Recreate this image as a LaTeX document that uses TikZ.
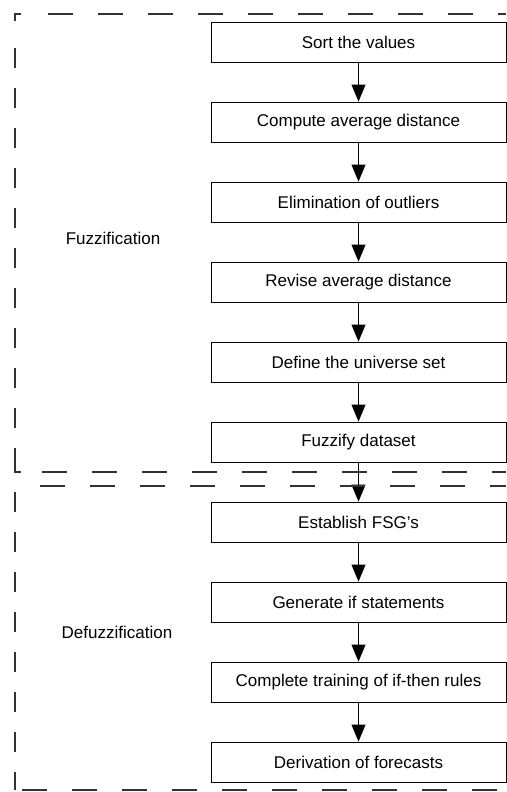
\documentclass[tikz,border=0pt]{standalone}
\usepackage{fontspec}
\setmainfont{Liberation Sans}
\usetikzlibrary{positioning,arrows.meta}
\begin{document}
\begin{tikzpicture}[x=1pt,y=-1pt,
    stage/.style={draw,line width=0.9pt,minimum width=295pt,minimum height=40pt,
        inner sep=0pt,font=\fontsize{17}{20}\selectfont},
    flow/.style={line width=0.9pt,-{Triangle[width=14pt,length=17pt]}},
    phase/.style={font=\fontsize{17}{20}\selectfont},
    hdash/.style={line width=1.2pt,black!80,dash pattern=on 25pt off 25pt},
    vdash/.style={line width=1.2pt,black!80,dash pattern=on 20pt off 20pt},
    on grid,node distance=80pt]
    \useasboundingbox (0,0) rectangle (506,792);
    % Fuzzification steps
    \node[stage] (sort) at (358.5,42) {Sort the values};
    \node[stage,below=of sort] (avg) {Compute average distance};
    \node[stage,below=of avg] (outl) {Elimination of outliers};
    \node[stage,below=of outl] (revise) {Revise average distance};
    \node[stage,below=of revise] (universe) {Define the universe set};
    \node[stage,below=of universe] (fuzzify) {Fuzzify dataset};
    % Defuzzification steps
    \node[stage,below=of fuzzify] (fsg) {Establish FSG's};
    \node[stage,below=of fsg] (ifstat) {Generate if statements};
    \node[stage,below=of ifstat] (rules) {Complete training of if-then rules};
    \node[stage,below=of rules] (forecast) {Derivation of forecasts};
    % Arrows between steps
    \foreach \a/\b in {sort/avg,avg/outl,outl/revise,revise/universe,universe/fuzzify,
        fuzzify/fsg,fsg/ifstat,ifstat/rules,rules/forecast}
        \draw[flow] (\a) -- (\b);
    % Phase labels
    \node[phase] (fuzlabel) at (113,238) {Fuzzification};
    \node[phase] (defuzlabel) at (117,632) {Defuzzification};
    % Upper dashed frame
    \draw[line width=1.2pt,black!80] (21,14) -- (15,14) -- (15,21);
    \draw[hdash] (48,14) -- (506,14);
    \draw[vdash] (15,48) -- (15,466);
    \draw[line width=1.2pt,black!80] (15,462) -- (15,472) -- (21,472);
    \draw[hdash] (42,472) -- (506,472);
    % Lower dashed frame
    \draw[hdash] (40,486) -- (506,486);
    \draw[vdash] (15,492) -- (15,790);
    \draw[hdash] (22,790) -- (506,790);
\end{tikzpicture}
\end{document}
